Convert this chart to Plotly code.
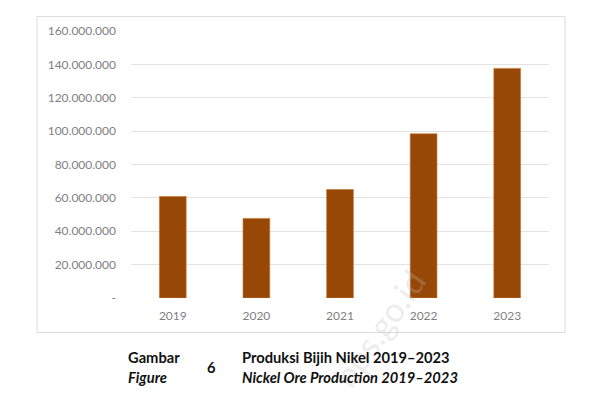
import plotly.graph_objects as go

years = ["2019", "2020", "2021", "2022", "2023"]
production = [60800000, 47700000, 65000000, 98400000, 137600000]
tick_values = [0, 20000000, 40000000, 60000000, 80000000, 100000000, 120000000, 140000000, 160000000]
tick_labels = ["-", "20.000.000", "40.000.000", "60.000.000", "80.000.000",
               "100.000.000", "120.000.000", "140.000.000", "160.000.000"]

fig = go.Figure()
fig.add_trace(go.Bar(
    x=years, y=production,
    marker=dict(color="#974806", line=dict(color="#C8732E", width=0.6)),
    width=0.32,
))

# page has an 8px body offset; figure sized to fit the window
W, H = 588, 389
L, R, T, B = 123, 47, 23, 99
PW, PH = W - L - R, H - T - B

fig.update_layout(
    width=W, height=H,
    margin=dict(l=L, r=R, t=T, b=B),
    paper_bgcolor="white", plot_bgcolor="white",
    showlegend=False,
    font=dict(family="Lato, Open Sans, sans-serif", color="#7f7f7f", size=12),
    xaxis=dict(showgrid=False, showline=False, ticks="", tickfont=dict(size=12, color="#7f7f7f"),
               ticklabelstandoff=9, fixedrange=True),
    yaxis=dict(range=[0, 160000000], tickvals=tick_values, ticktext=tick_labels,
               showgrid=True, gridcolor="#e3e3e3", gridwidth=1, zeroline=False,
               showline=False, ticks="", ticklabelstandoff=14,
               tickfont=dict(size=12, color="#7f7f7f")),
)

def px(x):  # page pixel -> paper x
    return (x - 8 - L) / PW

def py(y):  # page pixel -> paper y
    return (T + PH - (y - 8)) / PH

# outer chart frame
fig.add_shape(type="rect", xref="paper", yref="paper",
              x0=px(37), x1=px(565), y0=py(332.5), y1=py(16.5),
              line=dict(color="#dcdcdc", width=1), fillcolor="rgba(0,0,0,0)", layer="below")

# watermark
fig.add_annotation(text="bps.go.id", xref="paper", yref="paper", x=px(378), y=py(328),
                   xanchor="center", yanchor="middle",
                   showarrow=False, textangle=-55,
                   font=dict(family="Lato, sans-serif", size=34, color="rgba(190,190,190,0.28)"))

cap_font = dict(family="Lato, Open Sans, sans-serif", size=14.7, color="#111111")
def cap(text, x, y, xanchor="left"):
    fig.add_annotation(text=text, xref="paper", yref="paper", x=px(x), y=py(y),
                       xanchor=xanchor, yanchor="middle", showarrow=False, font=cap_font)

cap("<b>Gambar</b>", 126, 357)
cap("<b><i>Figure</i></b>", 126, 377)
cap("<b>6</b>", 211, 367, xanchor="center")
cap("<b>Produksi Bijih Nikel 2019–2023</b>", 240, 357)
cap("<b><i>Nickel Ore Production 2019–2023</i></b>", 240, 377)

fig.write_html("out.html")
